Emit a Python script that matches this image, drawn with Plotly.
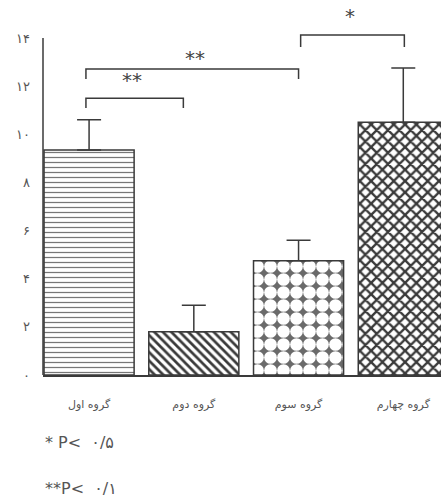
import plotly.graph_objects as go

# ---- data ----
categories = ["گروه اول", "گروه دوم", "گروه سوم", "گروه چهارم"]
values = [9.35, 1.8, 4.75, 10.5]
errors = [1.25, 1.1, 0.85, 2.25]
y_tick_vals = [0, 2, 4, 6, 8, 10, 12, 14]
y_tick_text = ["۰", "۲", "۴", "۶", "۸", "۱۰", "۱۲", "۱۴"]
# significance brackets: (x start, x end, bar level, leg bottom, label, label x, label y)
brackets = [
    (-0.03, 0.90, 11.5, 11.09, "**", 0.41, 12.25),
    (-0.03, 2.00, 12.71, 12.3, "**", 1.01, 13.15),
    (2.02, 3.01, 14.13, 13.63, "*", 2.49, 14.9),
]
legend_lines = ["* P<  ۰/۵", "**P<  ۰/۱"]

ink = "#3a3a3a"
txt = "#555555"

x_pos = list(range(len(categories)))

# per-bar fill styles
styles = [
    dict(bg="white", shape="-", fg="#777777", size=5, solidity=0.25),
    dict(bg="white", shape="\\", fg=ink, size=6, solidity=0.45),
    dict(bg="#6a6a6a", shape=".", fg="white", size=13, solidity=0.75),
    dict(bg="white", shape="x", fg=ink, size=8, solidity=0.5),
]

fig = go.Figure()
for i, st in enumerate(styles):
    fig.add_trace(go.Bar(
        x=[x_pos[i]], y=[values[i]], width=0.86,
        marker=dict(
            color="white",
            line=dict(color=ink, width=1.5),
            pattern=dict(shape=st["shape"], fgcolor=st["fg"], bgcolor=st["bg"],
                         size=st["size"], solidity=st["solidity"], fillmode="replace"),
        ),
        error_y=dict(type="data", symmetric=False, array=[errors[i]],
                     arrayminus=[0], color=ink, thickness=1.5, width=12),
        showlegend=False,
        hoverinfo="skip",
    ))

shapes = []
# y axis line 0..14
shapes.append(dict(type="line", xref="paper", yref="y", x0=0, x1=0, y0=0, y1=14,
                   line=dict(color=ink, width=1.5)))
annotations = []
for x0, x1, yl, yb, lab, lx, ly in brackets:
    shapes.append(dict(type="path", xref="x", yref="y",
                       path=f"M {x0} {yb} L {x0} {yl} L {x1} {yl} L {x1} {yb}",
                       line=dict(color=ink, width=1.5)))
    annotations.append(dict(x=lx, y=ly, xref="x", yref="y", text=lab, showarrow=False,
                            font=dict(size=20, color="#444444", family="DejaVu Sans")))

fig.update_layout(
    template="none",
    width=441, height=502,
    margin=dict(l=43, r=0, t=0, b=127),
    paper_bgcolor="white", plot_bgcolor="white",
    barmode="overlay",
    xaxis=dict(range=[-0.44, 3.36], tickvals=x_pos, ticktext=categories,
               showgrid=False, zeroline=False, showline=True, linecolor=ink, linewidth=1.5,
               ticks="", ticklabelstandoff=18,
               tickfont=dict(family="DejaVu Sans", size=11, color=txt)),
    yaxis=dict(range=[0, 15.58], tickvals=y_tick_vals, ticktext=y_tick_text,
               showgrid=False, zeroline=False, showline=False, ticks="",
               ticklabelstandoff=12,
               tickfont=dict(family="DejaVu Sans", size=13, color=txt)),
    shapes=shapes,
    annotations=annotations,
)

# legend text lines below chart (paper coords: plot area spans y 0..375 px)
plot_h = 375.0
for line, py in zip(legend_lines, [442, 488]):
    fig.add_annotation(x=0, y=(plot_h - py) / plot_h, xref="paper", yref="paper",
                       xanchor="left", yanchor="middle", text=line, showarrow=False,
                       font=dict(family="DejaVu Sans", size=16, color=txt))

fig.write_html("out.html", config={"displayModeBar": False},
               post_script="document.body.style.margin='0px';")
